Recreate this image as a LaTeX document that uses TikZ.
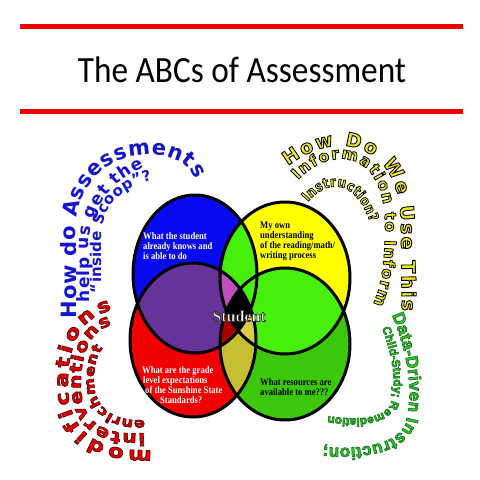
\documentclass[tikz,border=0pt]{standalone}
\usepackage{fontspec}
\usetikzlibrary{decorations.text}
\setmainfont{Liberation Serif}
\newfontfamily\titlefont[FakeStretch=0.9]{Carlito}
\newfontfamily\wafont{DejaVu Sans}
\newfontfamily\wnfont[FakeStretch=0.88]{DejaVu Sans}
\newfontfamily\wwfont[FakeStretch=1.2]{DejaVu Sans}
\newfontfamily\wgfont{Liberation Sans}
\newfontfamily\cfont[FakeStretch=0.86]{Liberation Serif}
\definecolor{cblue}{RGB}{10,10,240}
\definecolor{cyel}{RGB}{255,255,0}
\definecolor{cred}{RGB}{240,0,0}
\definecolor{cgreen}{RGB}{60,200,10}
\definecolor{cbright}{RGB}{70,240,10}
\definecolor{cpurple}{RGB}{102,51,153}
\definecolor{colive}{RGB}{200,190,50}
\definecolor{cpink}{RGB}{190,80,190}
\definecolor{cdred}{RGB}{170,0,0}
\definecolor{clolive}{RGB}{215,205,70}
\definecolor{tblue}{RGB}{20,20,210}
\definecolor{tyel}{RGB}{240,235,20}
\definecolor{tred}{RGB}{225,0,0}
\definecolor{tgreen}{RGB}{50,200,50}
\definecolor{lred}{RGB}{235,0,0}
% outlined text: stroke colour (r g b), width
\newcommand\outl[2]{\special{pdf:literal direct #1 RG #2 w 2 Tr}}
\def\EB{(195,274) ellipse [x radius=62, y radius=79]}
\def\EY{(285,278) ellipse [x radius=65, y radius=76]}
\def\ER{(193,340) ellipse [x radius=63, y radius=77]}
\def\EG{(285,344) ellipse [x radius=65, y radius=76]}
\tikzset{
  redrule/.style={draw=lred, line width=5pt},
  ctext/.style={font=\cfont\bfseries\fontsize{10}{10}\selectfont, align=left, inner sep=0pt, anchor=north west},
  wordart/.style={decorate, decoration={text along path, text align=fit to path, text={#1}}},
}
\begin{document}
\begin{tikzpicture}[x=1pt, y=-1pt]
\fill[white] (0,0) rectangle (480,480);
\useasboundingbox (0,0) rectangle (480,480);
% title
\draw[redrule] (20,26.5) -- (463,26.5);
\draw[redrule] (20,111.5) -- (463,111.5);
\node[font=\titlefont\fontsize{37}{37}\selectfont, anchor=base, inner sep=0] (title) at (242,82) {The ABCs of Assessment};
% venn fills
\fill[cblue] \EB; \fill[cyel] \EY; \fill[cred] \ER; \fill[cgreen] \EG;
\begin{scope}\clip \EB; \fill[cbright] \EY; \end{scope}
\begin{scope}\clip \EY; \fill[cbright] \EG; \end{scope}
\begin{scope}\clip \EB; \fill[cpurple] \ER; \end{scope}
\begin{scope}\clip \ER; \fill[colive] \EG; \end{scope}
\begin{scope}\clip \EB; \clip \EY; \fill[cpink] \ER; \end{scope}
\begin{scope}\clip \EB; \clip \ER; \fill[cdred] \EG; \end{scope}
\begin{scope}\clip \EY; \clip \ER; \fill[clolive] \EG; \end{scope}
\begin{scope}\clip \EB; \clip \EY; \clip \ER; \fill[black] \EG; \end{scope}
\draw[line width=3pt] \EB \EY \ER \EG;
% circle texts
\node[ctext, text=white] (tb) at (143,232) {What the student\\already knows and\\is able to do};
\node[ctext, text=black] (ty) at (260,222) {My own\\understanding\\of the reading/math/\\writing process};
\node[ctext, text=white] (tr) at (142,366) {What are the grade\\\hspace*{1pt}level expectations\\\hspace*{3pt}of the Sunshine State\\\hspace*{18pt}Standards?};
\node[ctext, text=black] (tg) at (260,378) {What resources are\\available to me???};
\node[font=\bfseries\fontsize{16}{16}\selectfont, text=white, inner sep=0] (student) at (239,316) {\outl{0.2 0.2 0.2}{0.7}Student};
% word art: blue
\path[wordart={|\wafont\bfseries\fontsize{21}{21}\selectfont\color{tblue}|How do Assessments}]
  (76,318) -- (76,235) .. controls (76,175) and (115,155) .. (150,155) .. controls (172,155) and (188,162) .. (195,180);
\path[wordart={|\wafont\bfseries\fontsize{17}{17}\selectfont\color{tblue}|help us get the}]
  (89,302) -- (89,245) .. controls (89,215) and (105,185) .. (144,167);
\path[wordart={|\wafont\bfseries\fontsize{15}{15}\selectfont\color{tblue}|“inside Scoop”?}]
  (101,293) -- (101,240) .. controls (101,210) and (118,188) .. (152,180);
% yellow
\path[wordart={|\wafont\bfseries\fontsize{19}{19}\selectfont\color{tyel}\outl{0 0 0}{0.9}|How Do We Use This}]
  (288,166) .. controls (315,145) and (348,138) .. (373,156) .. controls (393,170) and (401,195) .. (401,228) -- (402,311);
\path[wordart={|\wafont\bfseries\fontsize{16}{16}\selectfont\color{tyel}\outl{0 0 0}{0.8}|Information to Inform}]
  (298,180) .. controls (318,158) and (350,150) .. (370,172) .. controls (381,186) and (385,205) .. (385,225) .. controls (385,260) and (382,285) .. (373,304);
\path[wordart={|\wnfont\bfseries\fontsize{14}{14}\selectfont\color{tyel}\outl{0 0 0}{0.7}|Instruction?}]
  (308,202) .. controls (325,181) and (354,176) .. (370,222);
% red
\path[wordart={|\wwfont\bfseries\fontsize{19}{19}\selectfont\color{tred}\outl{0.3 0 0}{0.6}|modifications}]
  (152,450) .. controls (95,452) and (68,430) .. (68,385) .. controls (68,345) and (80,318) .. (112,310);
\path[wordart={|\wwfont\bfseries\fontsize{17}{17}\selectfont\color{tred}\outl{0.3 0 0}{0.6}|interventions}]
  (145,433) .. controls (100,436) and (81,420) .. (81,385) .. controls (81,350) and (92,330) .. (112,325);
\path[wordart={|\wwfont\bfseries\fontsize{13.5}{13.5}\selectfont\color{tred}\outl{0.3 0 0}{0.6}|enrichment}]
  (145,420) .. controls (110,422) and (94,405) .. (94,380) .. controls (94,365) and (97,355) .. (103,348);
% green
\path[wordart={|\wgfont\bfseries\fontsize{17}{17}\selectfont\color{tgreen}\outl{0.1 0.45 0.1}{0.7}|Data-Driven Instruction;}]
  (392,315) .. controls (407,352) and (415,390) .. (405,425) .. controls (395,445) and (360,450) .. (323,447);
\path[wordart={|\wgfont\bfseries\fontsize{11.8}{11.8}\selectfont\color{tgreen}\outl{0.1 0.45 0.1}{0.6}|Child-Study; Remediation}]
  (382,328) .. controls (392,355) and (398,385) .. (390,405) .. controls (380,420) and (355,420) .. (328,416);
\special{pdf:literal direct 0 Tr}
\end{tikzpicture}
\end{document}
